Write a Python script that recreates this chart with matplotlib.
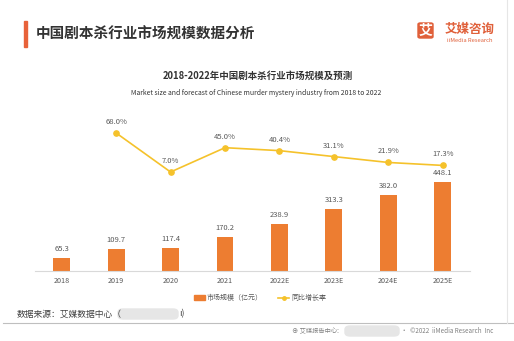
import matplotlib.pyplot as plt
import matplotlib.patches as mpatches
from matplotlib.lines import Line2D
import numpy as np

plt.rcParams['font.family'] = ['Noto Sans CJK SC', 'DejaVu Sans']

# 数据
years = ['2018', '2019', '2020', '2021', '2022E', '2023E', '2024E', '2025E']
market_size = [65.3, 109.7, 117.4, 170.2, 238.9, 313.3, 382.0, 448.1]
growth_years = ['2019', '2020', '2021', '2022E', '2023E', '2024E', '2025E']
growth_rate = [68.0, 7.0, 45.0, 40.4, 31.1, 21.9, 17.3]

W, H = 514, 341
fx = lambda px: px / W
fy = lambda py: 1 - py / H

bar_color = '#ED7D31'
line_color = '#F5C22B'
txt_gray = '#595959'

fig = plt.figure(figsize=(W / 100, H / 100), dpi=100)

# 主图区
ax = fig.add_axes([fx(35), fy(271), fx(470) - fx(35), fy(110) - fy(271)])
x = np.arange(len(years))
ax.bar(x, market_size, 0.31, color=bar_color, zorder=2)
ax.set_xlim(-0.49, 7.5)
ax.set_ylim(0, 810)
for xi, v in zip(x, market_size):
    ax.text(xi, v + 25, f'{v:.1f}', ha='center', va='bottom', fontsize=5.5, color=txt_gray)
ax.set_xticks(x)
ax.set_xticklabels(years, fontsize=5.2, color=txt_gray)
ax.tick_params(axis='x', length=0, pad=4)
ax.set_yticks([])
for s in ['top', 'right', 'left']:
    ax.spines[s].set_visible(False)
ax.spines['bottom'].set_color('#d9d9d9')
ax.spines['bottom'].set_linewidth(0.8)

ax2 = ax.twinx()
gx = [years.index(y) for y in growth_years]
ax2.plot(gx, growth_rate, color=line_color, lw=1.2, marker='o', markersize=3.8, zorder=3)
ax2.set_ylim(-147.7, 103.9)
ax2.set_yticks([])
for s in ['top', 'right', 'left', 'bottom']:
    ax2.spines[s].set_visible(False)
for xi, v in zip(gx, growth_rate):
    ax2.text(xi, v + 11, f'{v:.1f}%', ha='center', va='bottom', fontsize=5.5, color=txt_gray)

# 图例
handles = [mpatches.Patch(color=bar_color, label='市场规模（亿元）'),
           Line2D([], [], color=line_color, lw=1.2, marker='o', markersize=2.5, label='同比增长率')]
fig.legend(handles=handles, loc='center', bbox_to_anchor=(fx(260), fy(298)), ncol=2,
           frameon=False, fontsize=5, labelcolor=txt_gray, handlelength=1.6, handleheight=0.6,
           columnspacing=2.2, handletextpad=0.3)

# 标题
fig.add_artist(mpatches.Rectangle((fx(24), fy(47)), fx(3), fy(21) - fy(47), color='#E8623A',
                                  transform=fig.transFigure))
fig.text(fx(36), fy(34), '中国剧本杀行业市场规模数据分析', fontsize=10.5, fontweight='bold',
         color='#333333', va='center', ha='left')
fig.text(fx(258), fy(76), '2018-2022年中国剧本杀行业市场规模及预测', fontsize=6.8,
         fontweight='bold', color='#333333', ha='center', va='center')
fig.text(fx(256), fy(93), 'Market size and forecast of Chinese murder mystery industry from 2018 to 2022',
         fontsize=4.9, color='#333333', ha='center', va='center')

# logo
fig.add_artist(mpatches.FancyBboxPatch((fx(418), fy(38)), fx(15), fy(23) - fy(38),
                                       boxstyle='round,pad=0,rounding_size=0.004',
                                       color='#E0603A', transform=fig.transFigure))
fig.text(fx(425.5), fy(30.5), '艾', fontsize=10, fontweight='bold', color='white',
         ha='center', va='center')
fig.text(fx(470), fy(29), '艾媒咨询', fontsize=9, fontweight='bold', color='#E0603A',
         ha='center', va='center')
fig.text(fx(470), fy(40), 'iiMedia Research', fontsize=4.2, color='#E0603A',
         ha='center', va='center')

# 数据来源
fig.text(fx(17), fy(314), '数据来源：艾媒数据中心（', fontsize=6.3, color='#404040',
         ha='left', va='center')
fig.add_artist(mpatches.FancyBboxPatch((fx(118), fy(319)), fx(60), fy(309) - fy(319),
                                       boxstyle='round,pad=0,rounding_size=0.01',
                                       color='#e6e6e6', transform=fig.transFigure))
fig.text(fx(179), fy(314), 'ı)', fontsize=6.3, color='#404040', ha='left', va='center')

# 底部线与版权
fig.add_artist(Line2D([fx(3), 1], [fy(323), fy(323)], color='#bfbfbf', lw=0.8,
                      transform=fig.transFigure))
fig.add_artist(Line2D([fx(507), fx(507)], [fy(0), fy(323)], color='#e6e6e6', lw=0.8,
                      transform=fig.transFigure))
fig.text(fx(292), fy(331), '⊕ 艾媒报告中心:', fontsize=4.5, color='#808080',
         ha='left', va='center')
fig.add_artist(mpatches.FancyBboxPatch((fx(345), fy(336)), fx(54), fy(326) - fy(336),
                                       boxstyle='round,pad=0,rounding_size=0.01',
                                       color='#e6e6e6', transform=fig.transFigure))
fig.text(fx(401), fy(331), '·  ©2022  iiMedia Research  Inc', fontsize=4.5, color='#808080',
         ha='left', va='center')

fig.savefig('out.png', dpi=100)
